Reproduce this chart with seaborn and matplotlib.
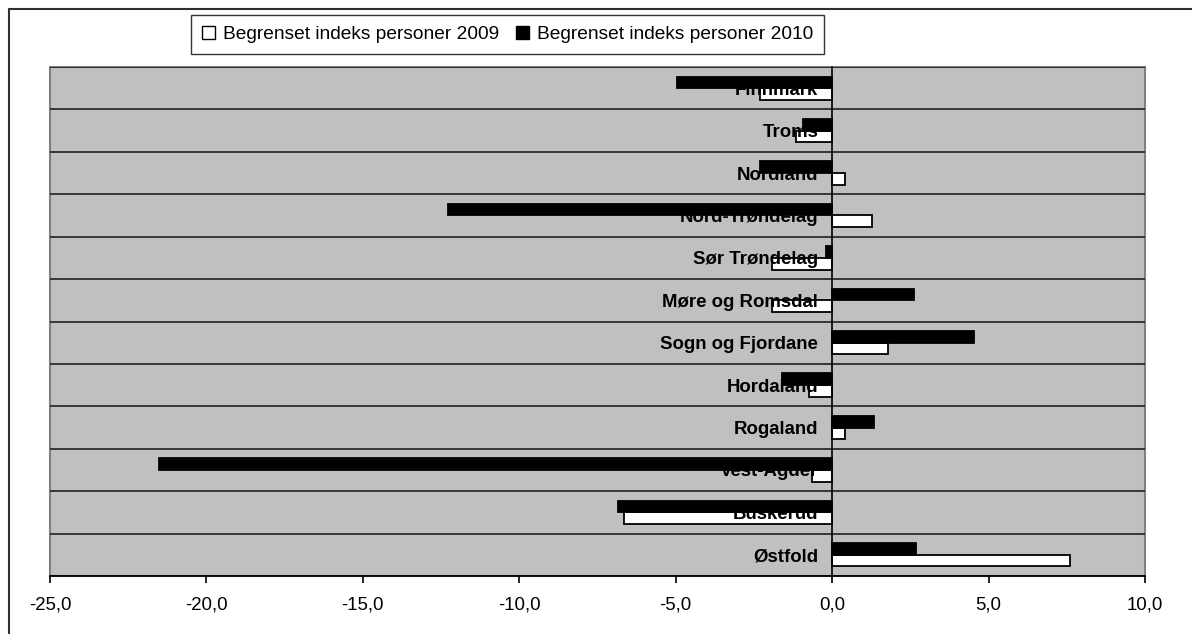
import matplotlib
matplotlib.use('Agg')
import matplotlib.pyplot as plt
import seaborn as sns
import pandas as pd
from matplotlib.patches import Rectangle, Patch
from matplotlib.lines import Line2D
from matplotlib.ticker import FixedLocator

# ---- data (top to bottom) ----
categories = ['Finnmark', 'Troms', 'Nordland', 'Nord-Trøndelag', 'Sør Trøndelag',
              'Møre og Romsdal', 'Sogn og Fjordane', 'Hordaland', 'Rogaland',
              'Vest-Agder', 'Buskerud', 'Østfold']
values_2009 = [-2.32, -1.16, 0.41, 1.28, -1.93, -1.93, 1.79, -0.75, 0.41, -0.65, -6.64, 7.59]
values_2010 = [-4.95, -0.94, -2.32, -12.28, -0.20, 2.62, 4.54, -1.61, 1.35, -21.53, -6.84, 2.67]
series_names = ['Begrenset indeks personer 2009', 'Begrenset indeks personer 2010']
x_ticks = [-25, -20, -15, -10, -5, 0, 5, 10]
x_tick_labels = ['-25,0', '-20,0', '-15,0', '-10,0', '-5,0', '0,0', '5,0', '10,0']

sns.set_style('white')
plt.rcParams['font.family'] = ['Liberation Sans', 'DejaVu Sans']
plt.rcParams['text.color'] = 'black'
plt.rcParams['xtick.color'] = 'black'
plt.rcParams['ytick.color'] = 'black'

df = pd.DataFrame({
    'Fylke': categories * 2,
    'Serie': [series_names[1]] * len(categories) + [series_names[0]] * len(categories),
    'Verdi': values_2010 + values_2009,
})

W, H = 1192, 634
fig = plt.figure(figsize=(W / 100, H / 100), dpi=100)
ax = fig.add_axes([50 / W, 1 - 576 / H, (1145 - 50) / W, (576 - 67) / H])

sns.barplot(data=df, y='Fylke', x='Verdi', hue='Serie', order=categories,
            hue_order=[series_names[1], series_names[0]],
            palette=['black', 'white'], orient='h', width=0.55, gap=0,
            edgecolor='black', linewidth=1.3, saturation=1, legend=False, ax=ax)

# white (2009) bars sit below the category labels, black (2010) bars above them
for p in ax.containers[1]:
    p.set_zorder(0.3)

ax.set_xlim(-25, 10)
ax.set_ylim(len(categories) - 0.5, -0.5)
ax.set_facecolor('#C0C0C0')
ax.set_xlabel('')
ax.set_ylabel('')

# spines
ax.spines['left'].set_position(('data', 0))
ax.spines['left'].set_color('black')
ax.spines['left'].set_linewidth(1.2)
ax.spines['bottom'].set_color('black')
ax.spines['bottom'].set_linewidth(1.2)
ax.spines['top'].set_visible(False)
ax.spines['right'].set_visible(False)
ax.add_patch(Rectangle((0, 0), 1, 1, transform=ax.transAxes, fill=False,
                       edgecolor='#808080', lw=1.5, zorder=0.2, clip_on=False))

# y labels at zero line
ax.set_yticks(range(len(categories)))
ax.set_yticklabels(categories, fontweight='bold', fontsize=13.4, color='black')
ax.tick_params(axis='y', which='major', length=0, pad=10)
ax.yaxis.set_minor_locator(FixedLocator([i - 0.5 for i in range(len(categories) + 1)]))
ax.tick_params(axis='y', which='minor', length=7, direction='inout', color='#404040', width=1)
ax.grid(False)
ax.grid(axis='y', which='minor', color='#202020', linewidth=1.2)
ax.set_axisbelow(True)

# x ticks
ax.set_xticks(x_ticks)
ax.set_xticklabels(x_tick_labels, fontsize=13.4, color='black')
ax.tick_params(axis='x', length=5, direction='out', pad=10, color='black', width=1.2, bottom=True)

# legend
handles = [Patch(facecolor='white', edgecolor='black', label=series_names[0]),
           Patch(facecolor='black', edgecolor='black', label=series_names[1])]
leg = fig.legend(handles=handles, loc='upper left', bbox_to_anchor=(191 / W, 1 - 15 / H),
                 ncol=2, frameon=True, fancybox=False, edgecolor='black', fontsize=13.8,
                 handlelength=0.7, handleheight=0.7, handletextpad=0.4, columnspacing=0.9,
                 borderpad=0.55, borderaxespad=0)
leg.get_frame().set_linewidth(1)

# outer chart border (top and left edges visible)
fig.add_artist(Line2D([9 / W, 1.0], [1 - 9 / H, 1 - 9 / H], transform=fig.transFigure,
                      color='#303030', lw=1.5))
fig.add_artist(Line2D([9 / W, 9 / W], [0.0, 1 - 9 / H], transform=fig.transFigure,
                      color='#303030', lw=1.5))

fig.savefig('out.png', dpi=100, facecolor='white')
